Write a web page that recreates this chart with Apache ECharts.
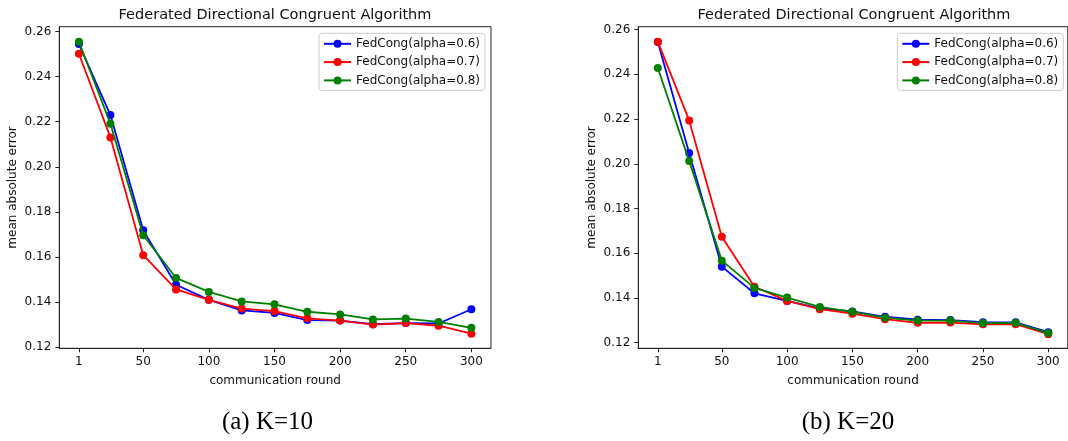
<!DOCTYPE html>
<html>
<head>
<meta charset="utf-8">
<script src="https://cdn.jsdelivr.net/npm/echarts@6/dist/echarts.min.js"></script>
<style>
  html, body { margin: 0; padding: 0; background: #fff; }
  #chart { width: 1068px; height: 441px; }
</style>
</head>
<body>
<div id="chart"></div>
<script>
// ─── Data ───────────────────────────────────────────────────────────────────

const ROUNDS = [1, 25, 50, 75, 100, 125, 150, 175, 200, 225, 250, 275, 300];
const X_TICKS = [1, 50, 100, 150, 200, 250, 300];
const Y_TICKS = [0.12, 0.14, 0.16, 0.18, 0.20, 0.22, 0.24, 0.26];
const SERIES_NAMES = ['FedCong(alpha=0.6)', 'FedCong(alpha=0.7)', 'FedCong(alpha=0.8)'];

// (a) K=10
const K10_A06 = [0.2544, 0.2229, 0.1718, 0.1477, 0.1410, 0.1363, 0.1352, 0.1320, 0.1318, 0.1302, 0.1307, 0.1305, 0.1368];
const K10_A07 = [0.2501, 0.2130, 0.1608, 0.1456, 0.1410, 0.1371, 0.1360, 0.1328, 0.1318, 0.1300, 0.1307, 0.1295, 0.1260];
const K10_A08 = [0.2554, 0.2191, 0.1696, 0.1507, 0.1445, 0.1403, 0.1390, 0.1357, 0.1345, 0.1323, 0.1327, 0.1312, 0.1286];

// (b) K=20
const K20_A06 = [0.2545, 0.2048, 0.1540, 0.1421, 0.1387, 0.1354, 0.1340, 0.1316, 0.1303, 0.1301, 0.1292, 0.1291, 0.1247];
const K20_A07 = [0.2546, 0.2194, 0.1674, 0.1450, 0.1387, 0.1350, 0.1330, 0.1305, 0.1289, 0.1290, 0.1282, 0.1283, 0.1238];
const K20_A08 = [0.2428, 0.2013, 0.1567, 0.1445, 0.1402, 0.1360, 0.1338, 0.1312, 0.1299, 0.1299, 0.1288, 0.1289, 0.1243];

// ─── Style ──────────────────────────────────────────────────────────────────

const COLORS = ['#0000ff', '#ff0000', '#008000'];
const FONT = '"DejaVu Sans", sans-serif';
const INK = '#111';
const FRAME = '#222';

const GRIDS = [
  { left: 59.3, top: 26.7, width: 431.7, height: 321.6 },
  { left: 638.3, top: 26.7, width: 429.5, height: 321.6 },
];
const Y_RANGES = [[0.1195, 0.2621], [0.1175, 0.2613]];

function xAxis(gridIndex) {
  return {
    type: 'value', gridIndex, min: -13.95, max: 314.95,
    name: 'communication round', nameLocation: 'middle', nameGap: 26.5,
    nameTextStyle: { fontFamily: FONT, fontSize: 12, color: INK },
    axisLine: { show: true, onZero: false, lineStyle: { color: FRAME, width: 1 } },
    axisTick: { show: true, length: 4, lineStyle: { color: FRAME }, customValues: X_TICKS },
    axisLabel: { fontFamily: FONT, fontSize: 12, color: INK, margin: 8, customValues: X_TICKS },
    splitLine: { show: false },
  };
}

function yAxis(gridIndex) {
  return {
    type: 'value', gridIndex, min: Y_RANGES[gridIndex][0], max: Y_RANGES[gridIndex][1],
    name: 'mean absolute error', nameLocation: 'middle', nameGap: 40,
    nameTextStyle: { fontFamily: FONT, fontSize: 12, color: INK },
    axisLine: { show: true, onZero: false, lineStyle: { color: FRAME, width: 1 } },
    axisTick: { show: true, length: 4, lineStyle: { color: FRAME }, customValues: Y_TICKS },
    axisLabel: {
      fontFamily: FONT, fontSize: 12, color: INK, margin: 8, customValues: Y_TICKS,
      formatter: (v) => v.toFixed(2),
    },
    splitLine: { show: false },
  };
}

function lineSeries(name, values, idx, axisIdx) {
  return {
    type: 'line', name,
    xAxisIndex: axisIdx, yAxisIndex: axisIdx,
    data: ROUNDS.map((r, i) => [r, values[i]]),
    symbol: 'circle', symbolSize: 8,
    z: 2 + idx,
    color: COLORS[idx],
    lineStyle: { width: 1.8, color: COLORS[idx] },
    itemStyle: { color: COLORS[idx] },
    emphasis: { disabled: true },
    animation: false,
  };
}

function legend(right) {
  return {
    right, top: 33.3, orient: 'vertical',
    data: SERIES_NAMES,
    itemWidth: 27, itemHeight: 10, itemGap: 4.3,
    padding: [3.5, 5, 3, 4],
    borderColor: '#ccc', borderWidth: 1, borderRadius: 3,
    backgroundColor: 'rgba(255,255,255,0.8)',
    textStyle: { fontFamily: FONT, fontSize: 12, color: INK, lineHeight: 14 },
    selectedMode: false,
  };
}

const TITLE_TEXT = 'Federated Directional Congruent Algorithm';

const option = {
  backgroundColor: '#fff',
  animation: false,
  title: [
    { text: TITLE_TEXT, left: 275, top: 8, textAlign: 'center', padding: 0,
      textStyle: { fontFamily: FONT, fontSize: 14.5, fontWeight: 'normal', color: INK } },
    { text: TITLE_TEXT, left: 854, top: 8, textAlign: 'center', padding: 0,
      textStyle: { fontFamily: FONT, fontSize: 14.5, fontWeight: 'normal', color: INK } },
    { text: '(a) K=10', left: 267.5, top: 410, textAlign: 'center', padding: 0,
      textStyle: { fontFamily: '"Liberation Serif", serif', fontSize: 25, fontWeight: 'normal', color: '#000' } },
    { text: '(b) K=20', left: 848, top: 410, textAlign: 'center', padding: 0,
      textStyle: { fontFamily: '"Liberation Serif", serif', fontSize: 25, fontWeight: 'normal', color: '#000' } },
  ],
  legend: [legend(583), legend(4.7)],
  grid: GRIDS.map((g) => ({ ...g, show: true, borderColor: FRAME, borderWidth: 1, backgroundColor: 'transparent' })),
  xAxis: [xAxis(0), xAxis(1)],
  yAxis: [yAxis(0), yAxis(1)],
  series: [
    lineSeries(SERIES_NAMES[0], K10_A06, 0, 0),
    lineSeries(SERIES_NAMES[1], K10_A07, 1, 0),
    lineSeries(SERIES_NAMES[2], K10_A08, 2, 0),
    lineSeries(SERIES_NAMES[0], K20_A06, 0, 1),
    lineSeries(SERIES_NAMES[1], K20_A07, 1, 1),
    lineSeries(SERIES_NAMES[2], K20_A08, 2, 1),
  ],
};

const chart = echarts.init(document.getElementById('chart'), null, { renderer: 'canvas' });
chart.setOption(option);
</script>
</body>
</html>
